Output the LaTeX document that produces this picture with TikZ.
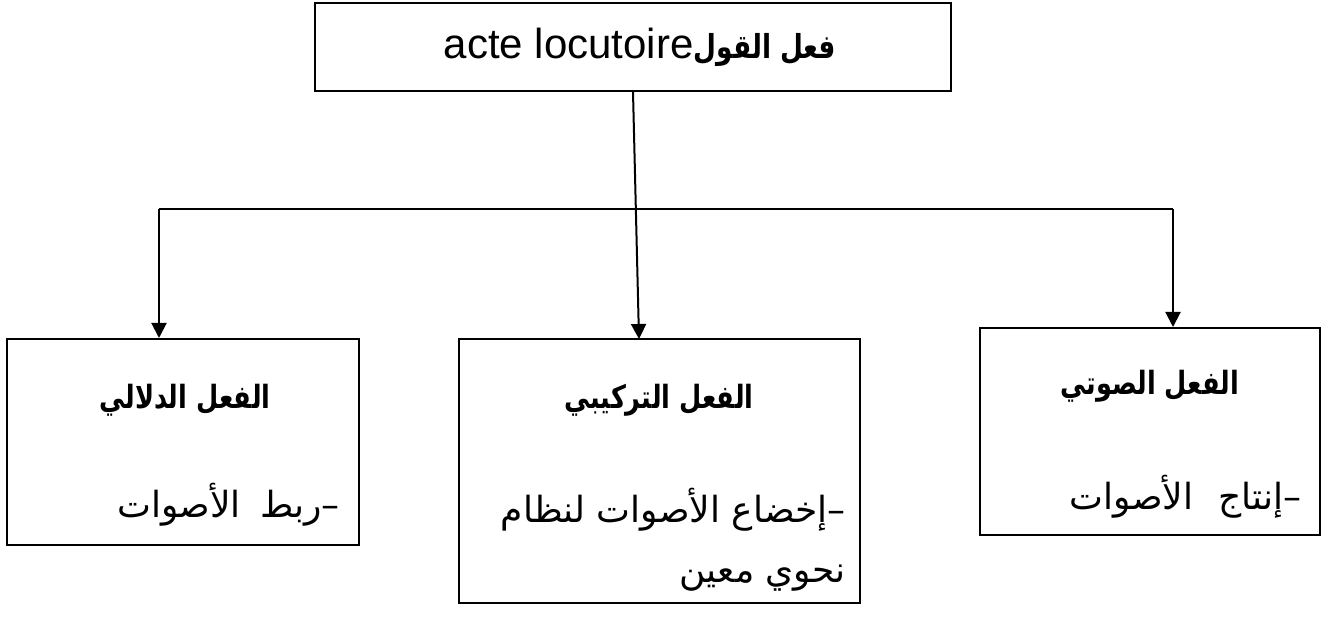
\documentclass[tikz,border=0pt]{standalone}
\usepackage{fontspec}
\setmainfont{Liberation Sans}
\newfontfamily\arabicfont[Script=Arabic]{DejaVu Sans}
\newfontfamily\arabicnarrow[Script=Arabic, FakeStretch=0.8]{DejaVu Sans}
\TeXXeTstate=1
\usetikzlibrary{arrows.meta}
\tikzset{
  box/.style={draw, line width=2pt, inner sep=0pt},
  conn/.style={line width=2pt},
  arr/.style={conn, -{Triangle[length=15pt,width=15pt]}},
  head/.style={font=\arabicnarrow\bfseries\fontsize{32}{38}\selectfont, inner sep=0pt},
  body/.style={font=\arabicfont\fontsize{36}{40}\selectfont, inner sep=0pt, anchor=east},
}
\begin{document}
\begin{tikzpicture}[x=1pt,y=-1pt]
\useasboundingbox (0,0) rectangle (1333,617);
% boxes
\node[box, minimum width=636pt, minimum height=88pt] (top) at (633,47) {};
\node[box, minimum width=352pt, minimum height=206pt] (lbox) at (183,442) {};
\node[box, minimum width=401pt, minimum height=264pt] (mbox) at (659.5,471) {};
\node[box, minimum width=340pt, minimum height=207pt] (rbox) at (1150,431.5) {};
% top text
\node[inner sep=0pt, font=\fontsize{42}{48}\selectfont] (ttext) at (640,47) {acte locutoire{\arabicnarrow\bfseries\fontsize{33}{38}\selectfont\beginR فعل القول\endR}};
% headings
\node[head] (lh) at (185,400) {\beginR الفعل الدلالي\endR};
\node[head] (mh) at (659,400) {\beginR الفعل التركيبي\endR};
\node[head] (rh) at (1150,386) {\beginR الفعل الصوتي\endR};
% bodies
\node[body] (lb) at (340,505) {\beginR –ربط\hspace{8pt} الأصوات\endR};
\node[body] (mb1) at (846,510) {\beginR –إخضاع الأصوات لنظام\endR};
\node[body] (mb2) at (846,578) {\beginR نحوي معين\endR};
\node[body] (rb) at (1302,497) {\beginR –إنتاج\hspace{14pt} الأصوات\endR};
% connectors
\coordinate (ma) at (639,339);
\coordinate (hl) at (159,209);
\coordinate (hr) at (1173,209);
\draw[arr] (top.south) -- (ma);
\draw[conn] (hl) -- (hr);
\draw[arr] (hl) -- (hl |- lbox.north);
\draw[arr] (hr) -- (hr |- rbox.north);
\end{tikzpicture}
\end{document}
